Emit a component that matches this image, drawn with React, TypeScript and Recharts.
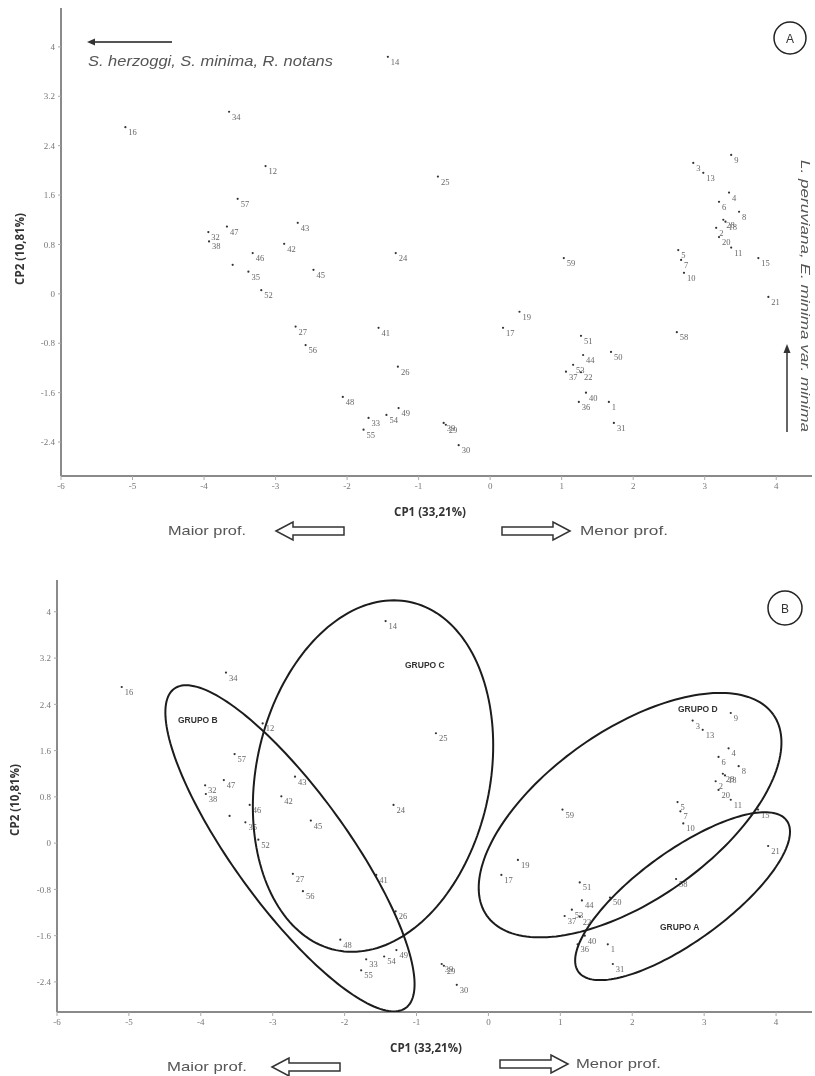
import { ScatterChart, Scatter, XAxis, YAxis } from "recharts";

// site scores on the first two principal components
const siteLabels = [
  "14", "16", "34", "12", "57", "43", "32", "38", "47", "42", "46", "", "35", "45", "52", "24",
  "27", "56", "41", "26", "48", "33", "55", "54", "49", "39", "29", "30", "25", "17", "19", "59",
  "51", "44", "53", "22", "37", "40", "36", "50", "1", "31", "9", "3", "13", "4", "6", "8",
  "28", "18", "2", "20", "11", "15", "5", "7", "10", "21", "58",
];
const cp1Scores = [
  -1.43, -5.1, -3.65, -3.14, -3.53, -2.69, -3.94, -3.93, -3.68, -2.88, -3.32, -3.6, -3.38, -2.47, -3.2, -1.32,
  -2.72, -2.58, -1.56, -1.29, -2.06, -1.7, -1.77, -1.45, -1.28, -0.65, -0.62, -0.44, -0.73, 0.18, 0.41, 1.03,
  1.27, 1.3, 1.16, 1.27, 1.06, 1.34, 1.24, 1.69, 1.66, 1.73, 3.37, 2.84, 2.98, 3.34, 3.2, 3.48,
  3.26, 3.29, 3.16, 3.2, 3.37, 3.75, 2.63, 2.67, 2.71, 3.89, 2.61,
];
const cp2Scores = [
  3.84, 2.7, 2.95, 2.07, 1.54, 1.15, 1.0, 0.85, 1.09, 0.81, 0.66, 0.47, 0.36, 0.39, 0.06, 0.66,
  -0.53, -0.83, -0.55, -1.18, -1.67, -2.01, -2.2, -1.96, -1.85, -2.09, -2.12, -2.45, 1.9, -0.55, -0.29, 0.58,
  -0.68, -0.99, -1.15, -1.27, -1.26, -1.6, -1.75, -0.94, -1.75, -2.09, 2.25, 2.12, 1.96, 1.64, 1.49, 1.33,
  1.2, 1.17, 1.07, 0.92, 0.75, 0.58, 0.71, 0.55, 0.34, -0.05, -0.62,
];

const xTicks = [-6, -5, -4, -3, -2, -1, 0, 1, 2, 3, 4];
const yTicks = [4, 3.2, 2.4, 1.6, 0.8, 0, -0.8, -1.6, -2.4];

// group ellipses (centre + two conjugate semi-axes, in CP units)
const groupNames = ["GRUPO A", "GRUPO B", "GRUPO C", "GRUPO D"];
const groupCenterX = [2.7, -2.76, -1.605, 1.97];
const groupCenterY = [-0.917, -0.09, 1.16, 0.484];
const groupAxisU = [[1.448, 1.308], [1.61, -2.76], [0.515, 3.01], [1.993, 1.737]];
const groupAxisV = [[0.368, -0.63], [-0.641, -0.58], [1.59, -0.42], [0.678, -1.204]];

const sites = siteLabels.map((label, i) => ({ label, x: cp1Scores[i], y: cp2Scores[i] }));

const groupRings = groupNames.map((name, g) =>
  Array.from({ length: 181 }, (_, k) => {
    const t = (k / 180) * Math.PI * 2;
    return {
      name,
      x: groupCenterX[g] + groupAxisU[g][0] * Math.cos(t) + groupAxisV[g][0] * Math.sin(t),
      y: groupCenterY[g] + groupAxisU[g][1] * Math.cos(t) + groupAxisV[g][1] * Math.sin(t),
    };
  })
);

const tickStyle = { fontSize: 9, fill: "#777", fontFamily: "Liberation Serif" };

const SiteDot = (props: any) => {
  const { cx, cy, payload } = props;
  return (
    <g>
      <circle cx={cx} cy={cy} r={1.1} fill="#333" />
      <text x={cx + 3} y={cy + 8} fontSize={8.5} fill="#666" fontFamily="Liberation Serif">
        {payload.label}
      </text>
    </g>
  );
};

const NoMark = () => <g />;

function PcaPanel({ height, margin, yDomain, groups }: any) {
  return (
    <ScatterChart width={815} height={height} margin={margin}>
      <XAxis
        xAxisId="frame"
        orientation="top"
        type="number"
        dataKey="x"
        domain={[-6, 4.5]}
        allowDataOverflow
        height={0}
        tick={false}
        tickLine={false}
        axisLine={{ stroke: "#9a9a9a", strokeWidth: 2 }}
      />
      <XAxis
        type="number"
        dataKey="x"
        domain={[-6, 4.5]}
        ticks={xTicks}
        allowDataOverflow
        height={24}
        tickSize={4}
        tickMargin={3}
        tick={tickStyle}
        tickLine={{ stroke: "#aaa" }}
        axisLine={{ stroke: "#8a8a8a", strokeWidth: 2 }}
      />
      <YAxis
        type="number"
        dataKey="y"
        domain={yDomain}
        ticks={yTicks}
        allowDataOverflow
        width={40}
        tickSize={3}
        tickMargin={3}
        tick={tickStyle}
        tickLine={{ stroke: "#aaa" }}
        axisLine={{ stroke: "#8a8a8a", strokeWidth: 2 }}
      />
      <Scatter data={sites} shape={SiteDot} isAnimationActive={false} />
      {groups &&
        groupRings.map((ring, g) => (
          <Scatter
            key={groupNames[g]}
            data={ring}
            line={{ stroke: "#1c1c1c", strokeWidth: 2 }}
            lineType="joint"
            shape={NoMark}
            isAnimationActive={false}
          />
        ))}
    </ScatterChart>
  );
}

const HollowArrow = ({ tip, y, dir }: { tip: number; y: number; dir: number }) => {
  const neck = tip + dir * 17;
  const tail = tip + dir * 68;
  const pts = [
    [tip, y], [neck, y - 9], [neck, y - 4], [tail, y - 4], [tail, y + 4], [neck, y + 4], [neck, y + 9],
  ];
  return <polygon points={pts.map((p) => p.join(",")).join(" ")} fill="#fff" stroke="#333" strokeWidth={1.5} />;
};

function Annotations() {
  const it = {
    fontFamily: "Liberation Sans",
    fontStyle: "italic" as const,
    fill: "#555",
    lengthAdjust: "spacingAndGlyphs",
  };
  const bold = { fontFamily: "Open Sans", fontWeight: 700, fill: "#333", fontSize: 11.5 };
  const plain = { fontFamily: "Liberation Sans", fill: "#555", fontSize: 13, lengthAdjust: "spacingAndGlyphs" };
  const grp = { fontFamily: "Liberation Sans", fontWeight: 700, fill: "#333", fontSize: 8.5 };
  return (
    <svg width={815} height={1076} style={{ position: "absolute", left: 0, top: 0, pointerEvents: "none" }}>
      {/* panel A */}
      <line x1={172} y1={42} x2={94} y2={42} stroke="#555" strokeWidth={2} />
      <polygon points="87,42 95,38.5 95,45.5" fill="#333" />
      <text x={88} y={66} fontSize={14.5} textLength={245} {...it}>
        S. herzoggi, S. minima, R. notans
      </text>
      <circle cx={790} cy={38} r={16} fill="none" stroke="#222" strokeWidth={1.5} />
      <text x={790} y={42.5} fontSize={12} textAnchor="middle" fill="#333" fontFamily="Liberation Sans">A</text>
      <line x1={787} y1={432} x2={787} y2={352} stroke="#333" strokeWidth={1.5} />
      <polygon points="787,344 783.5,353 790.5,353" fill="#333" />
      <text x={801} y={296} fontSize={13.5} textAnchor="middle" textLength={272} transform="rotate(90 801 296)" {...it}>
        L. peruviana, E. minima var. minima
      </text>
      <text x={24} y={249} textAnchor="middle" transform="rotate(-90 24 249)" {...bold}>CP2 (10,81%)</text>
      <text x={430} y={516} textAnchor="middle" {...bold}>CP1 (33,21%)</text>
      <text x={168} y={535} textLength={78} {...plain}>Maior prof.</text>
      <HollowArrow tip={276} y={531} dir={1} />
      <HollowArrow tip={570} y={531} dir={-1} />
      <text x={580} y={535} textLength={88} {...plain}>Menor prof.</text>

      {/* panel B */}
      <circle cx={785} cy={608} r={17} fill="none" stroke="#222" strokeWidth={1.5} />
      <text x={785} y={612.5} fontSize={12} textAnchor="middle" fill="#333" fontFamily="Liberation Sans">B</text>
      <text x={19} y={800} textAnchor="middle" transform="rotate(-90 19 800)" {...bold}>CP2 (10,81%)</text>
      <text x={426} y={1052} textAnchor="middle" {...bold}>CP1 (33,21%)</text>
      <text x={167} y={1071} textLength={80} {...plain}>Maior prof.</text>
      <HollowArrow tip={272} y={1067} dir={1} />
      <HollowArrow tip={568} y={1064} dir={-1} />
      <text x={576} y={1068} textLength={85} {...plain}>Menor prof.</text>
      <text x={178} y={723} {...grp}>GRUPO B</text>
      <text x={405} y={668} {...grp}>GRUPO C</text>
      <text x={678} y={712} {...grp}>GRUPO D</text>
      <text x={660} y={930} {...grp}>GRUPO A</text>
    </svg>
  );
}

export default function App() {
  return (
    <div
      style={{
        position: "absolute",
        left: 0,
        top: 0,
        width: 815,
        height: 1076,
        background: "#fff",
        filter: "grayscale(1)",
      }}
    >
      <div style={{ position: "absolute", left: 0, top: 0 }}>
        <PcaPanel height={540} margin={{ top: 8, right: 3, bottom: 40, left: 21 }} yDomain={[-2.95, 4.63]} groups={false} />
      </div>
      <div style={{ position: "absolute", left: 0, top: 560 }}>
        <PcaPanel height={516} margin={{ top: 20, right: 3, bottom: 40, left: 17 }} yDomain={[-2.92, 4.55]} groups />
      </div>
      <Annotations />
    </div>
  );
}
